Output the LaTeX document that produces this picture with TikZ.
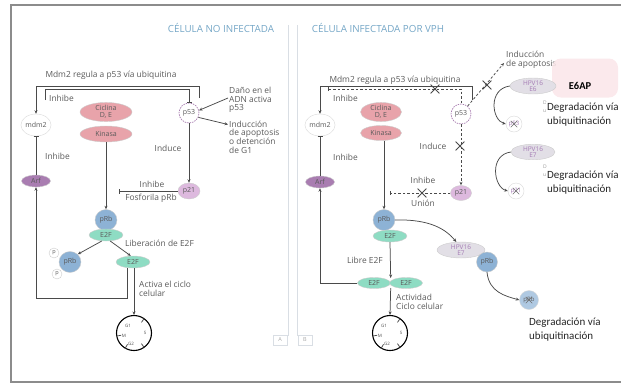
\documentclass[tikz,border=0pt]{standalone}
\usepackage{fontspec}
\setmainfont{Open Sans}
\newfontfamily\fontedeg{Carlito}
\usetikzlibrary{shapes.geometric,shapes.misc,arrows.meta,positioning,calc}

\definecolor{rosa}{HTML}{E8A3AA}
\definecolor{lilas}{HTML}{A97DB1}
\definecolor{lilasclaro}{HTML}{DDB9DE}
\definecolor{azulprb}{HTML}{8DB2D5}
\definecolor{verdee}{HTML}{8EDCC3}
\definecolor{cinzatxt}{HTML}{5A5A5A}
\definecolor{linhacor}{HTML}{4A4A4A}
\definecolor{titulocor}{HTML}{74A6C6}
\definecolor{hpvcor}{HTML}{E2DFE6}
\definecolor{hpvtxt}{HTML}{A57CB5}
\definecolor{e6apcor}{HTML}{FAE6E9}
\definecolor{painelcor}{HTML}{D9DEE4}

% fases do ciclo celular dentro de um circulo
\newcommand{\fasesciclo}[1]{%
  \node[fase] (#1g1) at ([shift={(-6pt,7pt)}]#1.center) {G1};
  \node[fase] (#1s) at ([shift={(11pt,0pt)}]#1.center) {S};
  \node[fase] (#1g2) at ([shift={(-3pt,-11pt)}]#1.center) {G2};
  \node[fase] (#1m) at ([shift={(-10pt,-3pt)}]#1.center) {M};
  \foreach \ang in {55,190,240,305}
    \draw[linha] ($(#1.center)!0.72!(#1.\ang)$) -- (#1.\ang);
}

\begin{document}
\begin{tikzpicture}[x=1pt, y=-1pt, >={Stealth[length=3.5pt, width=3pt]},
    linha/.style={draw=linhacor, line width=0.75pt},
    tracejada/.style={linha, dash pattern=on 2.5pt off 2pt},
    rotulo/.style={font=\fontsize{8.4}{8.7}\selectfont, text=cinzatxt, align=left, inner sep=0pt},
    titulo/.style={font=\fontsize{9.8}{10}\selectfont, text=titulocor},
    proteina/.style={ellipse, inner sep=0pt, font=\fontsize{7}{7.3}\selectfont, text=cinzatxt, align=center, draw=black!20, line width=0.4pt},
    ciclina/.style={proteina, fill=rosa},
    mdm/.style={proteina, fill=white, draw=black!15, minimum width=27pt, minimum height=22pt},
    arf/.style={proteina, fill=lilas, minimum width=29pt, minimum height=12pt},
    pcinco/.style={circle, draw=lilas, dash pattern=on 1.5pt off 1pt, line width=0.7pt, fill=white, minimum size=20pt, inner sep=0pt, font=\fontsize{7}{7}\selectfont, text=cinzatxt},
    pvinte/.style={proteina, fill=lilasclaro, minimum width=22pt, minimum height=16pt},
    prb/.style={proteina, fill=azulprb, minimum width=22pt, minimum height=21pt},
    efator/.style={proteina, fill=verdee, minimum width=34pt, minimum height=12pt},
    fosfo/.style={circle, draw=black!20, fill=white, minimum size=10pt, inner sep=0pt, font=\fontsize{5.5}{5.5}\selectfont, text=cinzatxt},
    hpv/.style={proteina, fill=hpvcor, text=hpvtxt, font=\fontsize{6.5}{6.3}\selectfont},
    degradado/.style={proteina, fill=white, draw=black!15, minimum size=16pt, font=\fontsize{6}{6}\selectfont, text=hpvtxt},
    marcax/.style={cross out, draw=linhacor, line width=0.8pt, minimum size=8pt, inner sep=0pt},
    marcapequena/.style={cross out, draw=linhacor!80, line width=0.5pt, minimum size=6pt, inner sep=0pt},
    ciclo/.style={circle, draw=black, line width=1.1pt, minimum size=35pt, inner sep=0pt},
    fase/.style={inner sep=0pt, text=black!70, font=\fontsize{4.5}{4.5}\selectfont},
    degtexto/.style={inner sep=1pt, fill=white, align=left, text=black!85, font=\fontedeg\fontsize{11}{14}\selectfont},
    fragmento/.style={inner sep=0pt, align=left, text=black!40, font=\fontsize{5}{8}\selectfont},
    letra/.style={draw=painelcor, text=black!35, font=\fontsize{5.5}{5.5}\selectfont, minimum width=14pt, minimum height=10pt, inner sep=0pt}]

\useasboundingbox (0,0) rectangle (621,384);

% moldura e paineis
\draw[draw=black!45, line width=1.3pt] (621,5) -| (11,382) -- (621,382);
\draw[draw=painelcor, line width=0.6pt] (288,25) -- (288,336);
\draw[draw=painelcor, line width=0.6pt] (297,25) -- (297,336);
\node[letra] (letraA) at (280,340) {A};
\node[letra] (letraB) at (305,340) {B};

%% ---------- Painel A: celula no infectada ----------
\node[titulo] (tituloA) at (221,28) {CÉLULA NO INFECTADA};
\node[rotulo] (mdmtxtA) at (111,75) {Mdm2 regula a p53 vía ubiquitina};

\node[mdm] (mdm2A) at (36,125) {mdm2};
\node[ciclina, minimum width=52pt, minimum height=19pt] (cicA) at (106,112) {Ciclina\\D, E};
\node[ciclina, minimum width=52pt, minimum height=16pt] (kinA) at (106,134) {Kinasa};
\node[pcinco] (p53A) at (189,113) {p53};
\node[arf] (arfA) at (36,181) {Arf};
\node[pvinte] (p21A) at (189,191) {p21};
\node[prb] (prbA) at (106,220) {pRb};
\node[efator] (e2fA) at (106,235) {E2F};
\node[prb] (prbfA) at (70,262) {pRb};
\node[fosfo] (fosfoA1) at (54,253) {p};
\node[fosfo] (fosfoA2) at (57,274) {p};
\node[efator] (e2flA) at (133,262) {E2F};
\node[ciclo] (cicloA) at (134,333) {};
\fasesciclo{cicloA}

% Mdm2 sobre p53
\coordinate (mdminiA) at (199,98);
\draw[linha, ->] (mdminiA) -- ++(0,-12) -| (mdm2A.north);
\coordinate (inhiniA) at (45,100);
\draw[linha, -{Bar[width=5pt]}] (inhiniA) -- ++(0,-11) -| (p53A.north);
\node[rotulo, anchor=west] (inhtxtA1) at (49,98) {Inhibe};

% dano no ADN
\node[rotulo, anchor=west] (danoA) at (229,100) {Daño en el\\ADN activa\\p53};
\node[rotulo, anchor=west] (apoA) at (229,137) {Inducción\\de apoptosis\\o detención\\de G1};
\draw[linha, ->] ([xshift=-1pt,yshift=2pt]danoA.west) -- (p53A.15);
\draw[linha, ->] (p53A.-25) -- ([xshift=-1pt,yshift=-4pt]apoA.north west);

% Arf inhibe mdm2
\draw[linha, -{Bar[width=5pt]}] (arfA.north) -- (mdm2A.south);
\node[rotulo, anchor=west] (inhtxtA2) at (45,156) {Inhibe};

% p53 induce p21
\draw[linha, ->] (p53A.south) -- (p21A.north);
\node[rotulo] (indtxtA) at (168,148) {Induce};
\coordinate (inhfimA) at (119,191);
\draw[linha, -{Bar[width=5pt]}] (p21A.west) -- (inhfimA);
\node[rotulo] (inhtxtA3) at (152,184) {Inhibe};
\node[rotulo] (fostxtA) at (151,198) {Fosforila pRb};

% kinasa fosforila pRb
\draw[linha, ->] (kinA.south) -- (prbA.north);
\draw[linha, ->] (e2fA.235) -- (prbfA.45);
\draw[linha, ->] (e2fA.-55) -- (e2flA.110);
\node[rotulo, anchor=west] (libtxtA) at (125,243) {Liberación de E2F};

% E2F activa el ciclo
\draw[linha, ->] ([xshift=-6pt]e2flA.south) -- ++(0,30) -| (arfA.south);
\draw[linha, ->] ([xshift=1pt]e2flA.south) -- (cicloA.north);
\node[rotulo, anchor=west] (acttxtA) at (139,289) {Activa el ciclo\\celular};

%% ---------- Painel B: celula infectada por VPH ----------
\node[titulo] (tituloB) at (378,28) {CÉLULA INFECTADA POR VPH};
\node[rotulo] (mdmtxtB) at (395,80) {Mdm2 regula a p53 vía ubiquitina};

\node[mdm] (mdm2B) at (320,125) {mdm2};
\node[ciclina, minimum width=41pt, minimum height=19pt] (cicB) at (381,112) {Ciclina\\D, E};
\node[ciclina, minimum width=41pt, minimum height=15pt] (kinB) at (381,133) {Kinasa};
\node[pcinco] (p53B) at (461,114) {p53};
\node[arf] (arfB) at (320,182) {Arf};
\node[pvinte, minimum width=21pt, minimum height=15pt] (p21B) at (461,193) {p21};
\node[prb] (prbB) at (384,220) {pRb};
\node[efator] (e2fB) at (390,236) {E2F};
\node[efator, minimum width=33pt, minimum height=11pt] (e2fpB1) at (374,283) {E2F};
\node[efator, minimum width=33pt, minimum height=11pt] (e2fpB2) at (406,283) {E2F};
\node[ciclo] (cicloB) at (390,333) {};
\fasesciclo{cicloB}

% Mdm2 sobre p53 (bloqueado)
\coordinate (mdminiB) at (472,100);
\draw[linha, ->] (mdminiB) -- ++(0,-14) -| (mdm2B.north);
\coordinate (inhiniB) at (328,89);
\draw[tracejada, {Bar[width=4pt]}-] (inhiniB) -| (p53B.north);
\node[marcax] (xinhB) at (435,89) {};
\node[rotulo, anchor=west] (inhtxtB1) at (333,98) {Inhibe};

% apoptosis bloqueada
\node[rotulo, anchor=west] (apoB) at (506,60) {Inducción\\de apoptosis};
\draw[tracejada, ->] (p53B.50) -- ([xshift=-2pt,yshift=-3pt]apoB.west);
\node[marcax] (xapoB) at (487,85) {};

% E6AP y HPV16 E6
\node[draw=none, fill=e6apcor, fill opacity=0.88, rounded corners=9pt, minimum width=66pt, minimum height=39pt] (e6apB) at (585,78) {};
\node[inner sep=0pt, font=\fontedeg\bfseries\fontsize{10.5}{10.5}\selectfont] (e6aptxtB) at (580,86) {E6AP};
\node[hpv, minimum width=46pt, minimum height=16pt] (hpve6B) at (533,86) {HPV16\\E6};
\node[degradado] (p53xB) at (514,124) {p53};
\node[marcapequena] (xp53xB) at (p53xB) {};
\draw[linha, ->] (hpve6B.west) .. controls +(-22,3) and +(-14,-4) .. (p53xB.west);
\node[fragmento, anchor=west] (fragB1) at (543,107) {D\\ut};
\node[degtexto, anchor=west] (degB1) at (546,115) {Degradación vía\\ubiquitinación};

% HPV16 E7 y p21
\node[hpv, minimum width=44pt, minimum height=14pt] (hpve7B) at (533,152) {HPV16\\E7};
\node[degradado] (p21xB) at (516,191) {p21};
\node[marcapequena] (xp21xB) at (p21xB) {};
\draw[linha, ->] (hpve7B.west) .. controls +(-22,3) and +(-14,-4) .. (p21xB.west);
\node[fragmento, anchor=west] (fragB2) at (543,171) {D\\ut};
\node[degtexto, anchor=west] (degB2) at (546,183) {Degradación vía\\ubiquitinación};

% Arf inhibe mdm2
\draw[linha, -{Bar[width=5pt]}] (arfB.north) -- (mdm2B.south);
\node[rotulo, anchor=west] (inhtxtB2) at (333,157) {Inhibe};

% p53 induce p21 (bloqueado)
\draw[tracejada, ->] (p53B.south) -- (p21B.north);
\node[marcax] (xindB) at (460,146) {};
\node[rotulo] (indtxtB) at (433,146) {Induce};
\coordinate (inhfimB) at (390,193);
\draw[tracejada, -{Bar[width=4pt]}] (p21B.west) -- (inhfimB);
\node[marcax] (xinh2B) at (422,193) {};
\node[rotulo] (inhtxtB3) at (423,180) {Inhibe};
\node[rotulo] (unitxtB) at (423,203) {Unión};

% kinasa, pRb y E2F libre
\draw[linha, ->] (kinB.south -| prbB.north) -- (prbB.north);
\draw[linha, ->] (e2fB.south) -- ([yshift=5pt]e2fpB1.east);
\node[rotulo] (libtxtB) at (365,260) {Libre E2F};
\draw[linha, ->] (e2fpB1.west) -| (arfB.south);
\draw[linha, ->] ([yshift=-5pt]e2fpB1.east) -- (cicloB.north);
\node[rotulo, anchor=west] (acttxtB) at (396,302) {Actividad\\Ciclo celular};

% HPV16 E7 captura pRb
\node[hpv, minimum width=48pt, minimum height=16pt] (hpve7bB) at (461,250) {HPV16\\E7};
\node[prb, minimum width=21pt, minimum height=20pt] (prbE7B) at (487,262) {pRb};
\draw[linha, ->] (prbB.east) .. controls +(36,-1) and +(-10,-12) .. (hpve7bB.120);
\node[degradado, fill=azulprb!70, minimum size=19pt, text=cinzatxt] (prbxB) at (529,300) {pRb};
\node[marcapequena] (xprbxB) at (prbxB) {};
\draw[linha, ->] (prbE7B.south) .. controls +(2,20) and +(-14,-4) .. (prbxB.west);
\node[degtexto, anchor=west] (degB3) at (528,330) {Degradación vía\\ubiquitinación};

\end{tikzpicture}
\end{document}
